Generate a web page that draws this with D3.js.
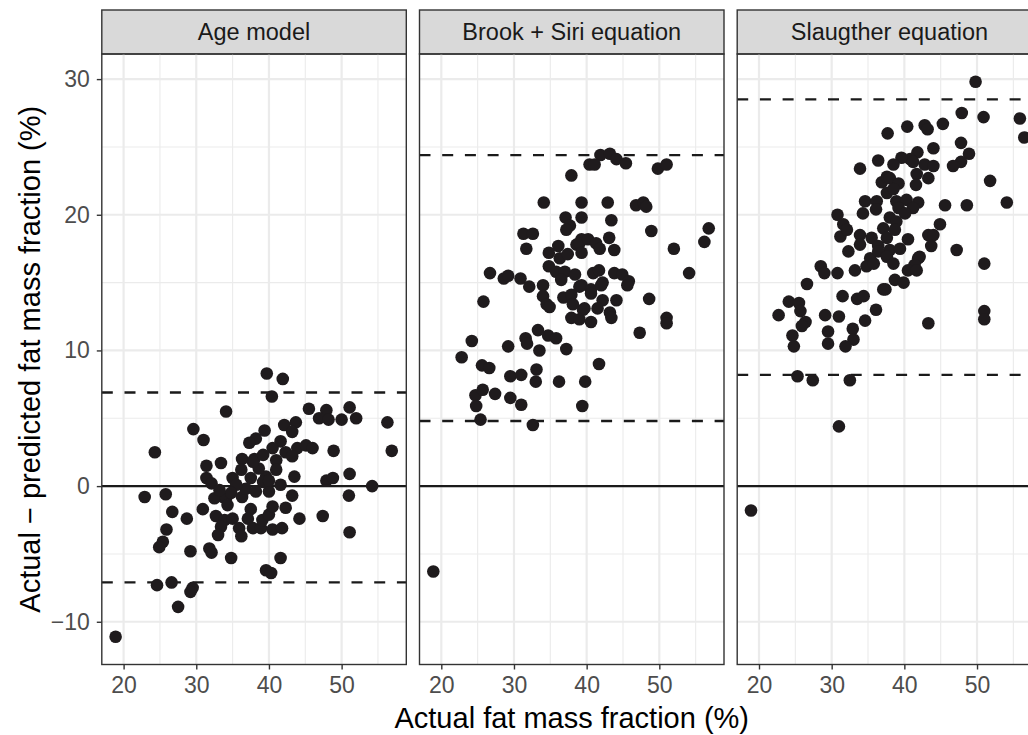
<!DOCTYPE html>
<html>
<head>
<meta charset="utf-8">
<script src="https://cdn.jsdelivr.net/npm/d3@7"></script>
<style>
  body { margin: 0; background: #fff; }
  svg { display: block; font-family: "Liberation Sans", Arial, sans-serif; }
</style>
</head>
<body>
<script>
// facet titles
var facets = ["Age model", "Brook + Siri equation", "Slaugther equation"];

// actual fat mass fraction (%) / actual - predicted (%) for each facet
var actualAge = [18.9,39.7,40.4,34.1,29.6,31.0,24.3,39.4,38.2,37.3,31.4,33.4,36.3,38.0,31.4,32.1,35.0,22.9,25.8,33.7,36.3,41.9,45.5,47.9,51.1,46.9,48.2,50.0,52.0,56.3,42.1,43.7,43.2,41.6,40.5,42.3,43.9,45.1,46.0,43.2,41.0,41.0,48.9,56.9,43.5,47.9,48.8,51.1,54.2,41.6,40.0,43.2,51.0,39.6,26.7,28.7,30.9,32.5,34.1,34.3,32.7,33.9,35.0,33.4,33.0,37.5,37.1,35.9,36.2,37.8,38.9,39.1,40.0,40.5,40.5,25.9,25.4,24.9,29.2,31.8,32.1,34.8,39.6,40.3,24.6,26.6,29.5,29.2,27.5,42.3,44.2,47.4,41.8,51.1,41.6,36.2,37.5,38.6,39.2,36.8,38.2,35.5,40.0,37.8,39.2,34.8,33.2];
var diffAge = [-11.1,8.3,6.6,5.5,4.2,3.4,2.5,4.1,3.5,3.2,1.5,1.7,2.0,2.0,0.6,0.2,0.6,-0.8,-0.6,-0.8,-0.8,7.9,5.7,5.6,5.8,5.0,4.9,4.9,5.0,4.7,4.5,4.7,4.0,3.3,2.8,2.5,2.8,3.0,2.8,2.2,1.9,1.2,2.6,2.6,0.7,0.4,0.6,0.9,0.0,0.1,-0.4,-0.7,-0.7,0.7,-1.9,-2.4,-1.7,-0.9,-0.9,-1.4,-2.2,-2.5,-2.4,-3.0,-3.6,-1.7,-2.4,-3.1,-3.7,-3.1,-3.1,-2.5,-2.1,-1.5,-3.2,-3.2,-4.1,-4.5,-4.8,-4.6,-4.9,-5.3,-6.2,-6.4,-7.3,-7.1,-7.5,-7.8,-8.9,-1.6,-2.4,-2.2,-3.1,-3.4,-5.3,1.2,0.6,1.3,0.3,-0.2,-0.4,0.1,0.4,1.8,2.3,-0.5,-0.3];

var actualBrook = [18.9,37.9,34.1,39.3,37.1,39.3,37.7,37.2,31.3,32.6,31.7,34.8,36.1,36.3,37.4,38.6,39.3,26.7,28.6,29.2,30.9,32.1,34.0,34.8,35.8,37.0,36.5,38.4,39.0,41.9,43.2,44.1,45.4,40.4,41.1,49.8,51.0,42.9,46.8,47.8,48.2,43.4,48.9,56.8,56.2,52.0,39.0,40.2,41.3,41.8,43.1,43.8,39.3,40.9,41.7,42.2,43.8,44.9,45.8,54.1,39.3,40.6,34.0,34.5,34.9,25.8,36.8,37.9,38.1,37.9,39.0,39.5,24.2,22.8,29.2,31.6,31.8,33.3,33.5,34.7,35.8,37.2,25.6,26.6,29.5,31.0,33.1,33.0,36.2,39.8,24.7,25.7,27.4,24.8,29.5,31.0,39.4,25.4,32.6,40.6,42.0,45.6,42.2,44.1,39.7,41.5,40.6,43.2,43.4,48.6,47.3,51.0,51.0,41.7];
var diffBrook = [-6.3,22.9,20.9,20.9,19.8,19.8,19.2,18.9,18.6,18.6,17.5,17.2,17.7,16.8,17.1,17.8,18.2,15.7,15.3,15.5,15.3,14.7,14.8,16.2,15.8,15.8,15.2,15.6,14.7,24.4,24.5,24.1,23.8,23.7,23.7,23.4,23.7,20.9,20.7,20.9,20.6,19.6,18.8,19.0,18.0,17.5,17.9,18.2,17.9,17.5,18.3,17.4,17.2,15.7,15.9,15.0,15.7,15.6,15.1,15.7,14.8,14.5,14.0,13.4,13.2,13.6,13.9,14.1,13.4,12.4,12.3,13.0,10.7,9.5,10.3,10.9,10.5,11.5,10.0,11.1,10.9,10.1,8.9,8.7,8.1,8.2,8.6,7.7,7.7,7.7,6.7,7.1,6.8,5.9,6.5,6.0,5.9,4.9,4.5,14.2,14.8,14.8,13.7,13.7,13.1,13.1,12.1,12.8,12.4,13.8,11.3,12.4,12.0,9.0];

var actualSlaughter = [18.9,37.7,33.9,36.4,36.9,37.6,37.6,34.6,36.2,34.3,36.1,30.8,31.6,31.2,32.1,33.9,33.9,35.5,36.4,37.1,37.6,32.3,49.8,47.9,50.9,55.9,56.5,40.4,42.8,43.2,45.3,47.8,44.0,41.8,40.8,39.6,38.5,41.2,48.9,47.8,46.7,42.8,44.0,41.7,43.3,41.6,38.0,39.2,38.5,51.8,38.9,40.3,41.9,39.2,41.2,40.1,38.0,38.9,45.6,48.6,54.1,38.7,44.9,43.3,44.0,40.5,43.7,47.2,38.0,39.4,42.1,35.3,36.4,37.6,28.5,29.0,30.8,33.2,34.8,35.8,26.6,37.1,31.5,33.5,34.4,24.1,25.5,25.7,22.7,29.1,31.0,36.1,34.6,26.4,25.9,24.6,24.8,29.5,29.5,32.9,33.0,31.9,25.3,27.4,32.5,31.0,38.5,41.9,41.4,40.5,41.7,38.7,39.9,37.4,51.0,43.3,51.0,51.0];
var diffSlaughter = [-1.8,26.0,23.4,24.0,22.4,22.8,21.6,21.0,21.0,20.1,20.4,20.0,19.3,18.4,18.9,18.5,17.8,18.3,17.7,19.0,18.3,17.3,29.8,27.5,27.2,27.1,25.7,26.5,26.6,26.3,26.7,25.3,24.9,24.6,24.1,24.2,23.7,23.9,24.5,23.9,23.6,23.7,23.6,23.0,22.7,22.2,22.7,22.3,21.9,22.5,21.0,21.1,20.9,20.5,20.5,20.1,19.8,19.5,20.7,20.7,20.9,18.9,19.3,18.5,18.5,18.2,17.7,17.4,17.4,17.5,16.9,16.8,17.3,16.9,16.2,15.7,15.7,15.9,16.2,16.4,14.9,14.5,14.0,13.8,14.0,13.6,13.5,12.9,12.6,12.6,12.5,13.0,12.2,12.1,11.8,11.1,10.3,11.4,10.5,11.6,10.8,10.3,8.1,7.8,7.8,4.4,16.4,16.8,16.3,15.9,15.9,15.2,15.0,14.5,16.4,12.0,12.9,12.3];

// limits of agreement (upper, lower)
var upperLimits = [6.9, 24.4, 28.5];
var lowerLimits = [-7.1, 4.8, 8.2];

var xTicks = [20, 30, 40, 50];
var yTicks = [-10, 0, 10, 20, 30];
var xMinor = [25, 35, 45, 55];
var yMinor = [-5, 5, 15, 25];

var facetData = [
  d3.zip(actualAge, diffAge),
  d3.zip(actualBrook, diffBrook),
  d3.zip(actualSlaughter, diffSlaughter)
];

var width = 1028, height = 735;
var panelLeft = 101.8, panelW = 304.5, panelStep = 317.7;
var panelTop = 54, panelH = 610.5, stripH = 44;
var tickFont = 23, titleFont = 29;

var x = d3.scaleLinear().domain([17.0, 58.9]).range([0, panelW]);
var y = d3.scaleLinear().domain([-13.15, 31.85]).range([panelH, 0]);

var svg = d3.select("body").append("svg")
  .attr("width", width)
  .attr("height", height);

facets.forEach(function(name, i) {
  var g = svg.append("g")
    .attr("transform", "translate(" + (panelLeft + i * panelStep) + "," + panelTop + ")");

  // strip
  g.append("rect")
    .attr("x", 0).attr("y", -stripH)
    .attr("width", panelW).attr("height", stripH)
    .attr("fill", "#d9d9d9")
    .attr("stroke", "#333333").attr("stroke-width", 1.4);
  g.append("text")
    .attr("x", panelW / 2).attr("y", -stripH / 2 + 8)
    .attr("text-anchor", "middle")
    .attr("font-size", 23.5)
    .attr("fill", "#1a1a1a")
    .text(name);

  // grid
  g.selectAll(".vminor").data(xMinor).enter().append("line")
    .attr("x1", d => x(d)).attr("x2", d => x(d))
    .attr("y1", 0).attr("y2", panelH)
    .attr("stroke", "#ebebeb").attr("stroke-width", 1.1);
  g.selectAll(".hminor").data(yMinor).enter().append("line")
    .attr("y1", d => y(d)).attr("y2", d => y(d))
    .attr("x1", 0).attr("x2", panelW)
    .attr("stroke", "#ebebeb").attr("stroke-width", 1.1);
  g.selectAll(".vmajor").data(xTicks).enter().append("line")
    .attr("x1", d => x(d)).attr("x2", d => x(d))
    .attr("y1", 0).attr("y2", panelH)
    .attr("stroke", "#ebebeb").attr("stroke-width", 2.2);
  g.selectAll(".hmajor").data(yTicks).enter().append("line")
    .attr("y1", d => y(d)).attr("y2", d => y(d))
    .attr("x1", 0).attr("x2", panelW)
    .attr("stroke", "#ebebeb").attr("stroke-width", 2.2);

  // reference lines
  g.append("line")
    .attr("x1", 0).attr("x2", panelW)
    .attr("y1", y(0)).attr("y2", y(0))
    .attr("stroke", "#1a1a1a").attr("stroke-width", 2.3);
  [upperLimits[i], lowerLimits[i]].forEach(function(v) {
    g.append("line")
      .attr("x1", 0).attr("x2", panelW)
      .attr("y1", y(v)).attr("y2", y(v))
      .attr("stroke", "#1a1a1a").attr("stroke-width", 2.3)
      .attr("stroke-dasharray", "11,11.7");
  });

  // points
  g.selectAll("circle").data(facetData[i]).enter().append("circle")
    .attr("cx", d => x(d[0]))
    .attr("cy", d => y(d[1]))
    .attr("r", 6.3)
    .attr("fill", "#1f1b1d");

  // border
  g.append("rect")
    .attr("width", panelW).attr("height", panelH)
    .attr("fill", "none")
    .attr("stroke", "#333333").attr("stroke-width", 1.4);

  // x axis
  var xa = g.append("g")
    .attr("transform", "translate(0," + panelH + ")")
    .call(d3.axisBottom(x).tickValues(xTicks).tickSize(5).tickPadding(7));
  xa.select(".domain").remove();
  xa.selectAll("line").attr("stroke", "#333333").attr("stroke-width", 1.4);
  xa.selectAll("text").attr("font-size", tickFont).attr("fill", "#4d4d4d")
    .attr("font-family", "Liberation Sans, Arial, sans-serif");

  if (i === 0) {
    var ya = g.append("g")
      .call(d3.axisLeft(y).tickValues(yTicks).tickSize(5).tickPadding(7)
        .tickFormat(d => d < 0 ? "\u2212" + Math.abs(d) : d));
    ya.select(".domain").remove();
    ya.selectAll("line").attr("stroke", "#333333").attr("stroke-width", 1.4);
    ya.selectAll("text").attr("font-size", tickFont).attr("fill", "#4d4d4d")
      .attr("font-family", "Liberation Sans, Arial, sans-serif");
  }
});

// axis titles
svg.append("text")
  .attr("x", panelLeft + (2 * panelStep + panelW) / 2)
  .attr("y", 728)
  .attr("text-anchor", "middle")
  .attr("font-size", titleFont)
  .attr("fill", "#000")
  .text("Actual fat mass fraction (%)");

svg.append("text")
  .attr("transform", "translate(40," + (panelTop + panelH / 2) + ") rotate(-90)")
  .attr("text-anchor", "middle")
  .attr("font-size", titleFont)
  .attr("fill", "#000")
  .text("Actual \u2212 predicted fat mass fraction (%)");
</script>
</body>
</html>
